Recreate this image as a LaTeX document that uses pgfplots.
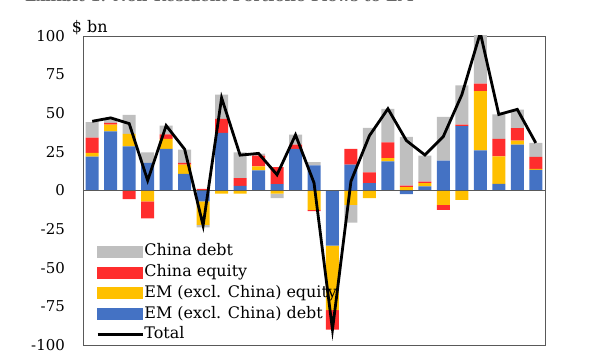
\documentclass[border=0pt]{standalone}
\usepackage{fontspec}
\setmainfont{DejaVu Serif}
\usepackage{pgfplots}
\pgfplotsset{compat=1.18}
\usepackage{pgfplotstable}
\definecolor{cblue}{HTML}{4472C4}
\definecolor{cyel}{HTML}{FFC000}
\definecolor{cred}{HTML}{FF2D2D}
\definecolor{cgrey}{HTML}{BFBFBF}
\definecolor{cframe}{HTML}{595959}

% x, positive parts (blue, yellow, red, grey), negative parts, total
\pgfplotstableread{
x bp yp rp gp bn yn rn gn tot
0 22 2.3 10 10 0 0 0 0 44.8
1 38.3 4.3 1.2 2.5 0 0 0 0 47
2 28.6 8 0 12.4 0 0 -5.6 0 43.3
3 17.8 0 0 6.9 0 -7 -11 0 6.5
4 26.9 6.5 3 5.6 0 0 0 0 42
5 10.8 5.9 1.1 8.6 0 0 0 0 26.7
6 0 0 1 0 -7 -15.3 0 -1.5 -22.6
7 37.3 0 9 15.7 0 -2 0 0 60
8 3 0 5 16.7 0 -2 0 0 22.9
9 13 2.6 7 1.2 0 0 0 0 24
10 4.1 0 11 0 0 -2 0 -3 10.2
11 26.9 0 2.8 6.5 0 0 0 0 36
12 16.2 0 0 2.2 0 -12.5 -0.8 0 5
13 0 0 0 0 -35.7 -41.7 -12.6 0 -90
14 16.7 0 10.2 0 0 -9.3 0 -11.5 6
15 4.8 0 6.9 28.8 0 -5 0 0 35.5
16 18.8 2.2 10.2 21.7 0 0 0 0 52.9
17 0 2.2 0.9 31.6 -2.4 0 0 0 32.3
18 2.6 2.2 1 16.7 0 0 0 0 23
19 19.3 0 0 28.4 0 -9.3 -3.2 0 35
20 41.6 0 1 25.4 0 -6 0 0 62
21 26 38.3 4.8 33 0 0 0 0 102
22 4.3 17.8 11.3 15.8 0 0 0 0 49.2
23 29.7 2.6 8 12.1 0 0 0 0 52.5
24 13.4 0.6 7.7 9.1 0 0 0 0 30.8
}\data

\pgfplotsset{
  base/.style={
    scale only axis, width=462bp, height=309bp,
    at={(83bp,15bp)}, anchor=south west,
    xmin=-0.5, xmax=24.5, ymin=-100, ymax=100,
  },
  barbase/.style={ybar stacked, bar width=13bp},
}

\begin{document}
\begin{tikzpicture}
% axis 1: frame, ticks, positive bars
\begin{axis}[base, barbase,
  axis line style={draw=cframe, line width=0.9bp},
  xtick=\empty,
  ytick={-100,-75,-50,-25,0,25,50,75,100},
  yticklabels={-100,-75,-50,-25,0,25,50,75,100},
  major tick length=0pt,
  yticklabel style={font=\fontsize{15}{18}\selectfont, anchor=east, inner sep=0pt, xshift=-18bp},
]
\addplot[fill=cblue, draw=none] table[x=x, y=bp]{\data};
\addplot[fill=cyel, draw=none] table[x=x, y=yp]{\data};
\addplot[fill=cred, draw=none] table[x=x, y=rp]{\data};
\addplot[fill=cgrey, draw=none] table[x=x, y=gp]{\data};
\end{axis}
% axis 2: negative bars
\begin{axis}[base, barbase, hide axis]
\addplot[fill=cblue, draw=none] table[x=x, y=bn]{\data};
\addplot[fill=cyel, draw=none] table[x=x, y=yn]{\data};
\addplot[fill=cred, draw=none] table[x=x, y=rn]{\data};
\addplot[fill=cgrey, draw=none] table[x=x, y=gn]{\data};
\end{axis}
% axis 3: zero line, total, legend
\begin{axis}[base, hide axis,
  legend cell align=left,
  legend style={at={(0.028,0.330)}, anchor=north west, draw=none, fill=none,
    inner sep=0pt, row sep=4.3bp,
    font=\fontsize{16}{19}\selectfont,
    nodes={inner sep=0.5bp, text height=12bp, text depth=3.5bp}},
]
\addlegendimage{legend image code/.code={\fill[cgrey] (0bp,-5.5bp) rectangle (45bp,5.5bp);}}
\addlegendentry{China debt}
\addlegendimage{legend image code/.code={\fill[cred] (0bp,-5.5bp) rectangle (45bp,5.5bp);}}
\addlegendentry{China equity}
\addlegendimage{legend image code/.code={\fill[cyel] (0bp,-5.5bp) rectangle (45bp,5.5bp);}}
\addlegendentry{EM (excl. China) equity}
\addlegendimage{legend image code/.code={\fill[cblue] (0bp,-5.5bp) rectangle (45bp,5.5bp);}}
\addlegendentry{EM (excl. China) debt}
\addlegendimage{legend image code/.code={\draw[black, line width=2.8bp] (0bp,0bp) -- (45bp,0bp);}}
\addlegendentry{Total}
\addplot[forget plot, draw=cframe, line width=1.3bp] coordinates {(-0.5,0) (24.5,0)};
\addplot[forget plot, black, line width=2.8bp, mark=none] table[x=x, y=tot]{\data};
\end{axis}
\node[anchor=base west, inner sep=0pt] at (71.7bp,327.3bp) {\fontsize{16}{19}\selectfont \$ bn};
\node[anchor=base west, inner sep=0pt, text=black!60] at (25bp,358.3bp) {\fontsize{15}{17}\selectfont\bfseries Exhibit 1: Non-Resident Portfolio Flows to EM};
\pgfresetboundingbox
\useasboundingbox (0bp,0bp) rectangle (611bp,360bp);
\end{tikzpicture}
\end{document}
